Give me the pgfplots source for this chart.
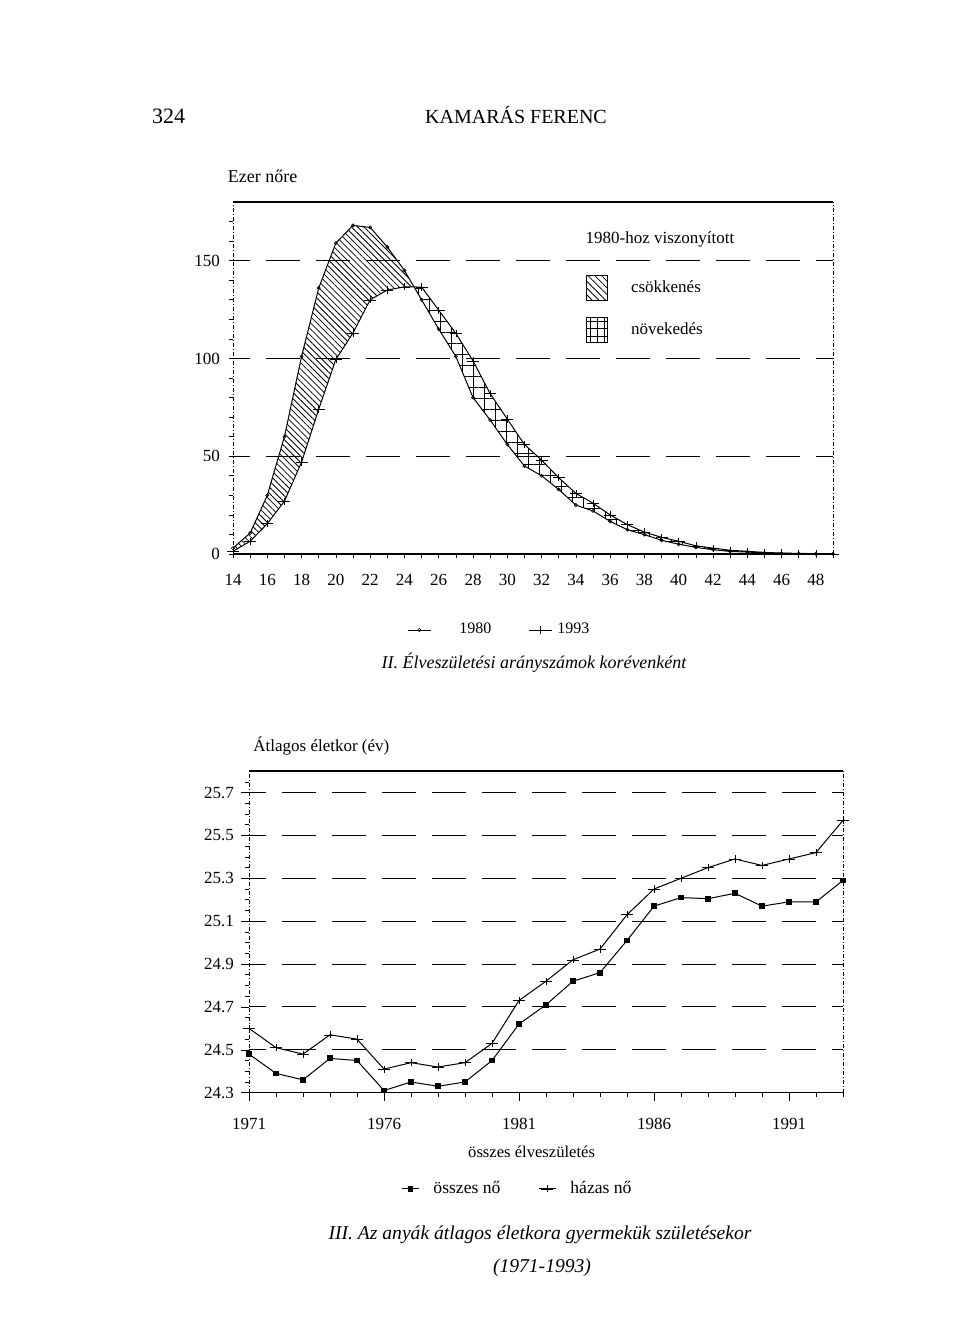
\documentclass[border=0pt]{standalone}
\usepackage{fontspec}
\setmainfont{Liberation Serif}
\usepackage{pgfplots}
\pgfplotsset{compat=1.18}
\usepackage{pgfplotstable}
\usetikzlibrary{patterns.meta}

\pgfplotstableread{
age y1980 y1993
14 3.0 1.4
15 10.7 6.5
16 30 15.5
17 60 27
18 101 47
19 136 74
20 159 99.5
21 168 113
22 167 130
23 157 135
24 145 136.6
25 130 136.5
26 115 124.7
27 101 112.8
28 80 98.8
29 68.5 82
30 56 69
31 45 56
32 40 48
33 33 39
34 25 31
35 22 26
36 16.7 20
37 12.4 15
38 9.9 11.2
39 7 8.5
40 5 6.5
41 3.4 4.2
42 2.2 3
43 1.3 1.9
44 1.0 1.4
45 0.5 0.8
46 0.3 0.5
47 0.2 0.3
48 0.1 0.2
49 0.05 0.12
}\fertility

\pgfplotstableread{
year osszes hazas
1971 24.48 24.60
1972 24.39 24.51
1973 24.36 24.48
1974 24.46 24.57
1975 24.45 24.55
1976 24.31 24.41
1977 24.35 24.44
1978 24.33 24.42
1979 24.35 24.44
1980 24.45 24.53
1981 24.62 24.73
1982 24.71 24.82
1983 24.82 24.92
1984 24.86 24.97
1985 25.01 25.13
1986 25.17 25.25
1987 25.21 25.30
1988 25.205 25.35
1989 25.23 25.39
1990 25.17 25.36
1991 25.19 25.39
1992 25.19 25.42
1993 25.29 25.57
}\meanage

\begin{document}
\begin{tikzpicture}
\path[use as bounding box] (0,0) rectangle (480pt,672pt);

% page texts
\node[anchor=base west, inner sep=0, font=\fontsize{11}{13}\selectfont] at (75.8pt,610pt) {324};
\node[anchor=base, inner sep=0, font=\fontsize{10}{12}\selectfont] at (258pt,610pt) {KAMARÁS FERENC};
\node[anchor=base west, inner sep=0, font=\fontsize{9}{11}\selectfont] at (113.7pt,580.5pt) {Ezer nőre};
\node[anchor=base, inner sep=0, font=\fontsize{8.5}{10}\selectfont] at (330pt,550pt) {1980-hoz viszonyított};
\node[anchor=base, inner sep=0, font=\fontsize{9}{11}\selectfont\itshape] at (267pt,337.5pt) {II. Élveszületési arányszámok korévenként};
\node[anchor=base west, inner sep=0, font=\fontsize{8.5}{10}\selectfont] at (126.5pt,296pt) {Átlagos életkor (év)};
\node[anchor=base, inner sep=0, font=\fontsize{8.3}{10}\selectfont] at (265.8pt,93pt) {összes élveszületés};
\node[anchor=base, inner sep=0, font=\fontsize{9.8}{12}\selectfont\itshape] at (270pt,52pt) {III. Az anyák átlagos életkora gyermekük születésekor};
\node[anchor=base, inner sep=0, font=\fontsize{9.8}{12}\selectfont\itshape] at (271pt,35.5pt) {(1971-1993)};

% ---------------- top chart ----------------
\begin{axis}[
  at={(116.5pt,395pt)}, anchor=south west, scale only axis,
  width=300pt, height=176pt,
  xmin=14, xmax=49, ymin=0, ymax=180, clip=false,
  axis line style={draw=none},
  xtick={14,16,...,48}, minor xtick={15,17,...,49},
  ytick={0,50,100,150}, minor ytick={10,20,...,170},
  xtick pos=left, ytick pos=left, tick align=outside,
  major tick length=2pt, minor tick length=2pt,
  tick style={black, line width=0.3pt},
  ymajorgrids,
  major grid style={black, line width=0.5pt, dash pattern=on 16.7pt off 8.3pt, dash phase=8.3pt},
  ticklabel style={font=\fontsize{8.5}{10}\selectfont},
  xticklabel style={yshift=-4.5pt},
  yticklabel style={xshift=-1pt},
  /pgf/number format/assume math mode=true,
  legend columns=2,
  legend style={at={(0.29,-0.216)}, anchor=west, draw=none, fill=none,
    inner sep=0pt, nodes={inner sep=0pt}, column sep=14pt,
    /tikz/column 2/.style={column sep=18.5pt},
    /tikz/column 3/.style={column sep=2.5pt},
    font=\fontsize{8}{10}\selectfont},
  legend image code/.code={\draw[mark repeat=2,mark phase=2,#1] plot coordinates {(0pt,0pt) (5.75pt,0pt) (11.5pt,0pt)};},
]
% decrease area (1980 above 1993)
\addplot[draw=none, forget plot, pattern={Lines[angle=-45,distance=2.2pt,line width=0.4pt]}] coordinates {
 (14,3.0) (15,10.7) (16,30) (17,60) (18,101) (19,136) (20,159) (21,168) (22,167) (23,157) (24,145)
 (24.56,136.54)
 (24,136.6) (23,135) (22,130) (21,113) (20,99.5) (19,74) (18,47) (17,27) (16,15.5) (15,6.5) (14,1.4)
} -- cycle;
% increase area (1993 above 1980)
\addplot[draw=none, forget plot, pattern={Hatch[angle=0,distance=5.5pt,line width=0.4pt]}] coordinates {
 (24.56,136.54)
 (25,136.5) (26,124.7) (27,112.8) (28,98.8) (29,82) (30,69) (31,56) (32,48) (33,39) (34,31) (35,26) (36,20) (37,15) (38,11.2) (39,8.5) (40,6.5) (41,4.2) (42,3) (43,1.9) (44,1.4) (45,0.8) (46,0.5) (47,0.3) (48,0.2) (49,0.12)
 (49,0.05) (48,0.1) (47,0.2) (46,0.3) (45,0.5) (44,1.0) (43,1.3) (42,2.2) (41,3.4) (40,5) (39,7) (38,9.9) (37,12.4) (36,16.7) (35,22) (34,25) (33,33) (32,40) (31,45) (30,56) (29,68.5) (28,80) (27,101) (26,115) (25,130)
} -- cycle;
\addplot[black, line width=0.5pt, mark=o, mark size=0.8pt, mark options={line width=0.3pt}] table[x=age,y=y1980] {\fertility};
\addlegendentry{1980}
\addplot[black, line width=0.5pt, mark=+, mark size=3pt, mark options={line width=0.25pt, yscale=0.6}] table[x=age,y=y1993] {\fertility};
\addlegendentry{1993}
\draw[line width=0.9pt] (rel axis cs:0,1) -- (rel axis cs:1,1);
\draw[line width=0.6pt] (rel axis cs:0,0) -- (rel axis cs:1,0);
\draw[line width=0.35pt, dash pattern=on 2pt off 1pt on 0.5pt off 1pt] (rel axis cs:0,0) -- (rel axis cs:0,1);
\draw[line width=0.35pt, dash pattern=on 2pt off 1pt on 0.5pt off 1pt] (rel axis cs:1,0) -- (rel axis cs:1,1);
\end{axis}

% pattern legend overlay
\begin{axis}[
  at={(116.5pt,395pt)}, anchor=south west, scale only axis,
  width=300pt, height=176pt, hide axis,
  xmin=0, xmax=1, ymin=0, ymax=1,
  legend cell align=left,
  legend style={at={(0.588,0.793)}, anchor=north west, draw=none, fill=none,
    inner sep=0pt, nodes={inner sep=0pt}, row sep=8pt, column sep=11.5pt,
    font=\fontsize{8.5}{10}\selectfont},
]
\addplot[draw=none, forget plot] coordinates {(0,0) (1,1)};
\addlegendimage{legend image code/.code={\draw[line width=0.5pt, pattern={Lines[angle=-45,distance=2.4pt,line width=0.4pt]}] (0pt,-6.25pt) rectangle (10.5pt,6.25pt);}}
\addlegendentry{csökkenés}
\addlegendimage{legend image code/.code={\draw[line width=0.5pt, pattern={Hatch[angle=0,distance=3.6pt,line width=0.4pt]}] (0pt,-6.25pt) rectangle (10.5pt,6.25pt);}}
\addlegendentry{növekedés}
\end{axis}

% ---------------- bottom chart ----------------
\begin{axis}[
  at={(124.5pt,125.65pt)}, anchor=south west, scale only axis,
  width=297pt, height=160.8pt,
  xmin=1971, xmax=1993, ymin=24.3, ymax=25.8, clip=false,
  axis line style={draw=none},
  xtick={1971,1976,1981,1986,1991},
  xticklabels={1971,1976,1981,1986,1991},
  minor xtick={1972,1973,1974,1975,1977,1978,1979,1980,1982,1983,1984,1985,1987,1988,1989,1990,1992,1993},
  ytick={24.3,24.5,24.7,24.9,25.1,25.3,25.5,25.7},
  yticklabels={24.3,24.5,24.7,24.9,25.1,25.3,25.5,25.7},
  minor ytick={24.35,24.4,24.45,24.55,24.6,24.65,24.75,24.8,24.85,24.95,25.0,25.05,25.15,25.2,25.25,25.35,25.4,25.45,25.55,25.6,25.65,25.75},
  xtick pos=left, ytick pos=left, tick align=outside,
  major tick length=4pt, minor tick length=2pt,
  tick style={black, line width=0.3pt},
  ymajorgrids,
  major grid style={black, line width=0.5pt, dash pattern=on 16.7pt off 8.3pt, dash phase=8.3pt},
  ticklabel style={font=\fontsize{8.5}{10}\selectfont},
  xticklabel style={yshift=-5pt},
  /pgf/number format/assume math mode=true,
  legend columns=2,
  legend style={at={(0.256,-0.299)}, anchor=west, draw=none, fill=none,
    inner sep=0pt, nodes={inner sep=0pt}, column sep=7pt,
    /tikz/every even column/.append style={column sep=19pt},
    font=\fontsize{8.8}{10}\selectfont},
  legend image code/.code={\draw[mark repeat=2,mark phase=2,#1] plot coordinates {(0pt,0pt) (4.25pt,0pt) (8.5pt,0pt)};},
]
\addplot[black, line width=0.5pt, mark=square*, mark size=1.2pt] table[x=year,y=osszes] {\meanage};
\addlegendentry{összes nő}
\addplot[black, line width=0.5pt, mark=+, mark size=3pt, mark options={line width=0.25pt, yscale=0.6}] table[x=year,y=hazas] {\meanage};
\addlegendentry{házas nő}
\draw[line width=0.9pt] (rel axis cs:0,1) -- (rel axis cs:1,1);
\draw[line width=0.6pt] (rel axis cs:0,0) -- (rel axis cs:1,0);
\draw[line width=0.35pt, dash pattern=on 2pt off 1pt on 0.5pt off 1pt] (rel axis cs:0,0) -- (rel axis cs:0,1);
\draw[line width=0.35pt, dash pattern=on 2pt off 1pt on 0.5pt off 1pt] (rel axis cs:1,0) -- (rel axis cs:1,1);
\end{axis}
\end{tikzpicture}
\end{document}
